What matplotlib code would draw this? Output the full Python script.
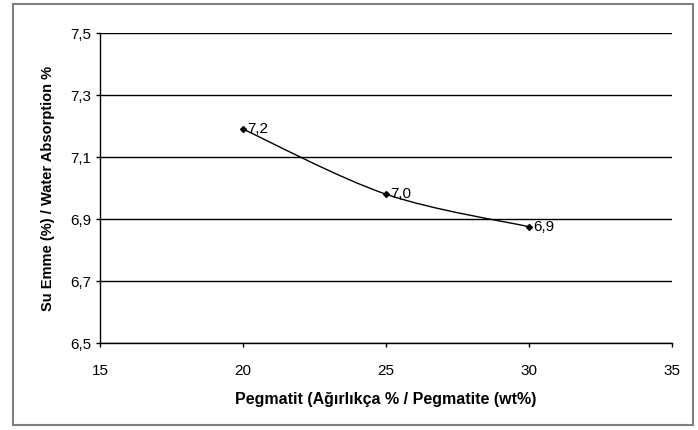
import matplotlib
matplotlib.use("Agg")
import matplotlib.pyplot as plt
from matplotlib.path import Path
from matplotlib.patches import PathPatch, Rectangle

plt.rcParams["font.family"] = ["Liberation Sans", "DejaVu Sans"]

# data
pegmatite = [20, 25, 30]
absorption = [7.19, 6.98, 6.875]
point_labels = ["7,2", "7,0", "6,9"]

x_ticks = [15, 20, 25, 30, 35]
y_ticks = [6.5, 6.7, 6.9, 7.1, 7.3, 7.5]
y_tick_labels = ["6,5", "6,7", "6,9", "7,1", "7,3", "7,5"]

x_label = "Pegmatit (Ağırlıkça % / Pegmatite (wt%)"
y_label = "Su Emme (%) / Water Absorption %"


def smooth_path(xs, ys, tension=1 / 6):
    """Catmull-Rom style bezier through the points (Excel-like smoothed line)."""
    pts = list(zip(xs, ys))
    verts = [pts[0]]
    codes = [Path.MOVETO]
    for i in range(len(pts) - 1):
        p0 = pts[i - 1] if i > 0 else pts[i]
        p1 = pts[i]
        p2 = pts[i + 1]
        p3 = pts[i + 2] if i + 2 < len(pts) else pts[i + 1]
        c1 = (p1[0] + (p2[0] - p0[0]) * tension, p1[1] + (p2[1] - p0[1]) * tension)
        c2 = (p2[0] - (p3[0] - p1[0]) * tension, p2[1] - (p3[1] - p1[1]) * tension)
        verts += [c1, c2, p2]
        codes += [Path.CURVE4] * 3
    return Path(verts, codes)


fig = plt.figure(figsize=(6.98, 4.30), dpi=100)
fig.patches.append(Rectangle((0.018, 0.012), 0.975, 0.978, transform=fig.transFigure,
                             fill=False, edgecolor="#808080", linewidth=1.5))

ax = fig.add_axes([0.1433, 0.2023, 0.8195, 0.7209])
ax.set_xlim(15, 35)
ax.set_ylim(6.5, 7.5)

for yv in y_ticks:
    ax.axhline(yv, color="black", linewidth=1.0, zorder=1)

ax.add_patch(PathPatch(smooth_path(pegmatite, absorption), fill=False,
                       edgecolor="black", linewidth=1.0, zorder=3))
ax.plot(pegmatite, absorption, linestyle="none", marker="D", markersize=3,
        color="black", zorder=4)
for xv, yv, lab in zip(pegmatite, absorption, point_labels):
    ax.annotate(lab, (xv, yv), xytext=(3, 0), textcoords="offset points",
                ha="left", va="center", fontsize=11)

ax.set_xticks(x_ticks)
ax.set_yticks(y_ticks)
ax.set_yticklabels(y_tick_labels)
ax.tick_params(axis="both", direction="out", length=3, width=1, labelsize=11,
               color="black")
ax.tick_params(axis="x", pad=12)
ax.spines["top"].set_visible(False)
ax.spines["right"].set_visible(False)
ax.spines["left"].set_linewidth(1.0)
ax.spines["bottom"].set_linewidth(1.0)

ax.set_xlabel(x_label, fontsize=11.5, fontweight="bold", labelpad=10)
ax.set_ylabel(y_label, fontsize=10.5, fontweight="bold", labelpad=11)

fig.savefig("out.png", dpi=100)
